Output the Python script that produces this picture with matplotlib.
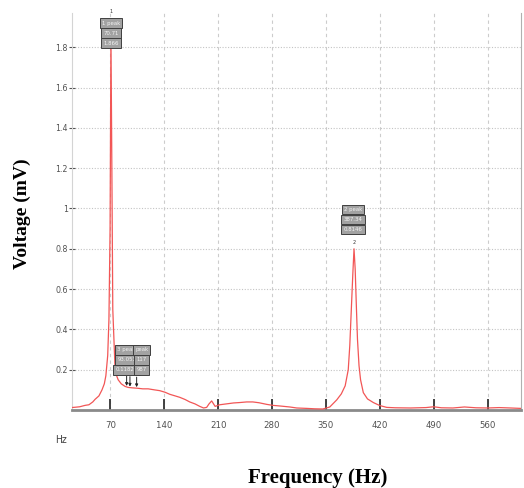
import matplotlib
matplotlib.use("Agg")
import matplotlib.pyplot as plt
import numpy as np

# spectrum (Hz, mV)
freq = [19, 25, 30, 37, 42, 47, 50, 55, 59, 62,
        64, 66.4, 68, 69.5, 70.6, 71.8, 73, 75.8, 78, 80,
        84, 89, 93, 98, 105, 112, 119, 127, 134, 141,
        147, 154, 160, 167, 173, 180, 186, 191, 195, 198,
        201.5, 204, 206, 212, 220, 230, 238, 247, 255, 263,
        273, 281, 290, 303, 312, 325, 335, 346, 355, 364,
        370, 375, 379, 381, 383, 385, 386.5, 388, 389.5, 391,
        393, 395, 398.6, 404, 411.6, 420, 429, 440, 460, 480,
        490, 500, 515, 530, 545, 560, 575, 590, 603]
volt = [0.012, 0.014, 0.016, 0.023, 0.026, 0.04, 0.053, 0.07, 0.10, 0.13,
        0.17, 0.27, 0.45, 0.9, 1.87, 1.2, 0.5, 0.22, 0.17, 0.15,
        0.13, 0.117, 0.112, 0.11, 0.108, 0.105, 0.105, 0.1, 0.096, 0.088,
        0.078, 0.07, 0.063, 0.052, 0.04, 0.03, 0.018, 0.01, 0.013, 0.03,
        0.045, 0.03, 0.018, 0.026, 0.03, 0.035, 0.037, 0.04, 0.04, 0.036,
        0.028, 0.023, 0.02, 0.015, 0.01, 0.008, 0.006, 0.005, 0.015, 0.05,
        0.08, 0.12, 0.2, 0.32, 0.5, 0.68, 0.8, 0.7, 0.52, 0.35,
        0.22, 0.15, 0.086, 0.055, 0.037, 0.022, 0.013, 0.011, 0.01, 0.012,
        0.016, 0.011, 0.01, 0.015, 0.011, 0.01, 0.012, 0.01, 0.008]

xticks = [70, 140, 210, 280, 350, 420, 490, 560]
yticks = [0.2, 0.4, 0.6, 0.8, 1.0, 1.2, 1.4, 1.6, 1.8]
ytick_labels = ["0.2", "0.4", "0.6", "0.8", "1", "1.2", "1.4", "1.6", "1.8"]

peak1_text = ["1 peak", "70.71", "1.866"]
peak2_text = ["2 peak", "387.34", "0.8146"]
table_left = ["3 peak", "93.053", "0.11829"]
table_right = ["peak", "117", "987"]
marker_freqs = [91, 95.3, 104]

narrow = ["Liberation Sans Narrow", "DejaVu Sans"]

fig = plt.figure(figsize=(5.24, 4.88), dpi=100)
ax = fig.add_axes([72 / 524, 78 / 488, 449 / 524, 397 / 488])

ax.plot(freq, volt, color="#f25656", lw=0.9, zorder=3)
ax.set_xlim(20, 603.5)
ax.set_ylim(0, 1.97)

ax.set_xticks(xticks)
ax.set_xticklabels([str(t) for t in xticks], family=narrow, fontsize=6.8,
                   color="#505050", stretch="condensed")
ax.set_yticks(yticks)
ax.set_yticklabels(ytick_labels, family=narrow, fontsize=6.3, color="#505050",
                   stretch="condensed")
ax.tick_params(axis="x", direction="in", length=8, width=1.3, color="#333333", pad=8)
ax.tick_params(axis="y", direction="inout", length=4, width=0.8, color="#555555", pad=1)

ax.grid(axis="y", linestyle=(0, (1, 1.5)), color="#c4c4c4", lw=0.8)
ax.grid(axis="x", linestyle=(0, (3, 3)), color="#cccccc", lw=0.8)

ax.spines["top"].set_visible(False)
ax.spines["left"].set_color("#d4d4d4")
ax.spines["right"].set_color("#b0b0b0")
ax.spines["bottom"].set_color("#8a8a8a")
ax.spines["bottom"].set_linewidth(2)


def cell(x, y, dx, dy, txt, fs=3.9):
    ax.annotate(txt, xy=(x, y), xytext=(dx, dy), textcoords="offset pixels",
                ha="center", va="center", fontsize=fs, color="#f4f4f4",
                family=narrow, zorder=5,
                bbox=dict(boxstyle="square,pad=0.4", fc="#a2a2a2", ec="#404040", lw=0.7))


# peak markers
v = np.array(volt)
i1 = int(np.argmax(v[:30]))
i2 = 30 + int(np.argmax(v[30:]))

for k, t in enumerate(peak1_text):
    cell(freq[i1], volt[i1], 0, 10 - 10 * k, t)
ax.annotate("1", xy=(freq[i1], volt[i1]), xytext=(0, 22), textcoords="offset pixels",
            ha="center", va="center", fontsize=3.5, color="#333333")

for k, t in enumerate(peak2_text):
    cell(freq[i2], volt[i2], -1, 39 - 10 * k, t)
ax.annotate("2", xy=(freq[i2], volt[i2]), xytext=(0, 6), textcoords="offset pixels",
            ha="center", va="center", fontsize=3.5, color="#333333")

# marker table with arrows
fm = marker_freqs[0]
vm = float(np.interp(fm, freq, volt))
for k in range(3):
    cell(fm, vm, 0, 37 - 10 * k, table_left[k])
    cell(fm, vm, 15, 37 - 10 * k, table_right[k])
for f in marker_freqs:
    vf = float(np.interp(f, freq, volt))
    ax.annotate("", xy=(f, vf + 0.005), xytext=(0, 10), textcoords="offset pixels",
                arrowprops=dict(arrowstyle="-|>", color="#222222", lw=0.7,
                                mutation_scale=4, shrinkA=0, shrinkB=0))

fig.text(61 / 524, 1 - 440 / 488, "Hz", family=narrow, fontsize=7.5,
         color="#404040", ha="center", va="center", stretch="condensed")
fig.text(22 / 524, 1 - 214 / 488, "Voltage (mV)", family="Liberation Serif",
         fontweight="bold", fontsize=14, rotation=90, ha="center", va="center")
fig.text(317.5 / 524, 1 - 478 / 488, "Frequency (Hz)", family="Liberation Serif",
         fontweight="bold", fontsize=15, ha="center", va="center")

fig.savefig("out.png", dpi=100)
